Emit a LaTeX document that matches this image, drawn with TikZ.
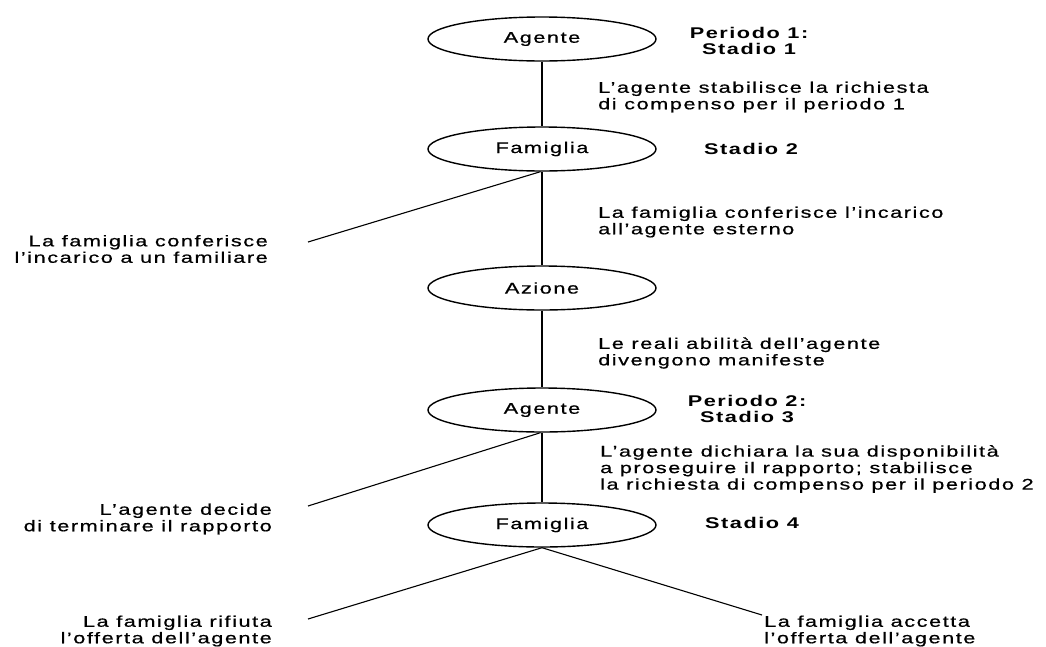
\documentclass[tikz,border=0pt]{standalone}
\usepackage{fontspec}
\setmainfont{Liberation Sans}[FakeStretch=1.4, LetterSpace=10, UprightFeatures={FakeBold=0.6}]
\usetikzlibrary{shapes.geometric}
\newcommand{\txtsize}{\fontsize{15.5}{16.5}\selectfont}
\tikzset{
  ell/.style={ellipse, draw, line width=1.4pt, minimum width=228pt, minimum height=44pt, inner sep=0pt, font=\txtsize},
  lbl/.style={inner sep=0pt, font=\txtsize},
  lblb/.style={inner sep=0pt, font=\txtsize\bfseries, align=center},
  stem/.style={line width=1.6pt},
  branch/.style={line width=1.1pt}
}
\begin{document}
\begin{tikzpicture}[x=1pt,y=-1pt]
\useasboundingbox[fill=white] (0,0) rectangle (1046,646);
% decision nodes
\node[ell] (e1) at (542,39) {Agente};
\node[ell] (e2) at (542,149) {Famiglia};
\node[ell] (e3) at (542,288) {Azione};
\node[ell] (e4) at (542,410) {Agente};
\node[ell] (e5) at (542,525) {Famiglia};
% stem
\draw[stem] (e1) -- (e2);
\draw[stem] (e2) -- (e3);
\draw[stem] (e3) -- (e4);
\draw[stem] (e4) -- (e5);
% branch end points
\coordinate (b1) at (308,242);
\coordinate (b2) at (308,506);
\coordinate (b3) at (308,619);
\coordinate (b4) at (762,615);
\draw[branch] (e2.266) -- (b1);
\draw[branch] (e4.266) -- (b2);
\draw[branch] (e5.south) -- (b3);
\draw[branch] (e5.south) -- (b4);
% left labels
\node[lbl, anchor=east, align=right] (l1) at (268,249) {La famiglia conferisce\\l’incarico a un familiare};
\node[lbl, anchor=east, align=right] (l2) at (272,519) {L’agente decide\\di terminare il rapporto};
\node[lbl, anchor=east, align=right] (l3) at (272,631) {La famiglia rifiuta\\l’offerta dell’agente};
\node[lbl, anchor=west, align=left] (l4) at (764,631) {La famiglia accetta\\l’offerta dell’agente};
% right labels
\node[lblb] (s1) at (749,41) {Periodo 1:\\Stadio 1};
\node[lbl, anchor=west, align=left] (r1) at (598,97) {L’agente stabilisce la richiesta\\di compenso per il periodo 1};
\node[lblb] (s2) at (751,149) {Stadio 2};
\node[lbl, anchor=west, align=left] (r2) at (598,222) {La famiglia conferisce l’incarico\\all’agente esterno};
\node[lbl, anchor=west, align=left] (r3) at (598,353) {Le reali abilità dell’agente\\divengono manifeste};
\node[lblb] (s3) at (747,409) {Periodo 2:\\Stadio 3};
\node[lbl, anchor=west, align=left] (r4) at (600,469) {L’agente dichiara la sua disponibilità\\a proseguire il rapporto; stabilisce\\la richiesta di compenso per il periodo 2};
\node[lblb] (s4) at (752,523) {Stadio 4};
\end{tikzpicture}
\end{document}
